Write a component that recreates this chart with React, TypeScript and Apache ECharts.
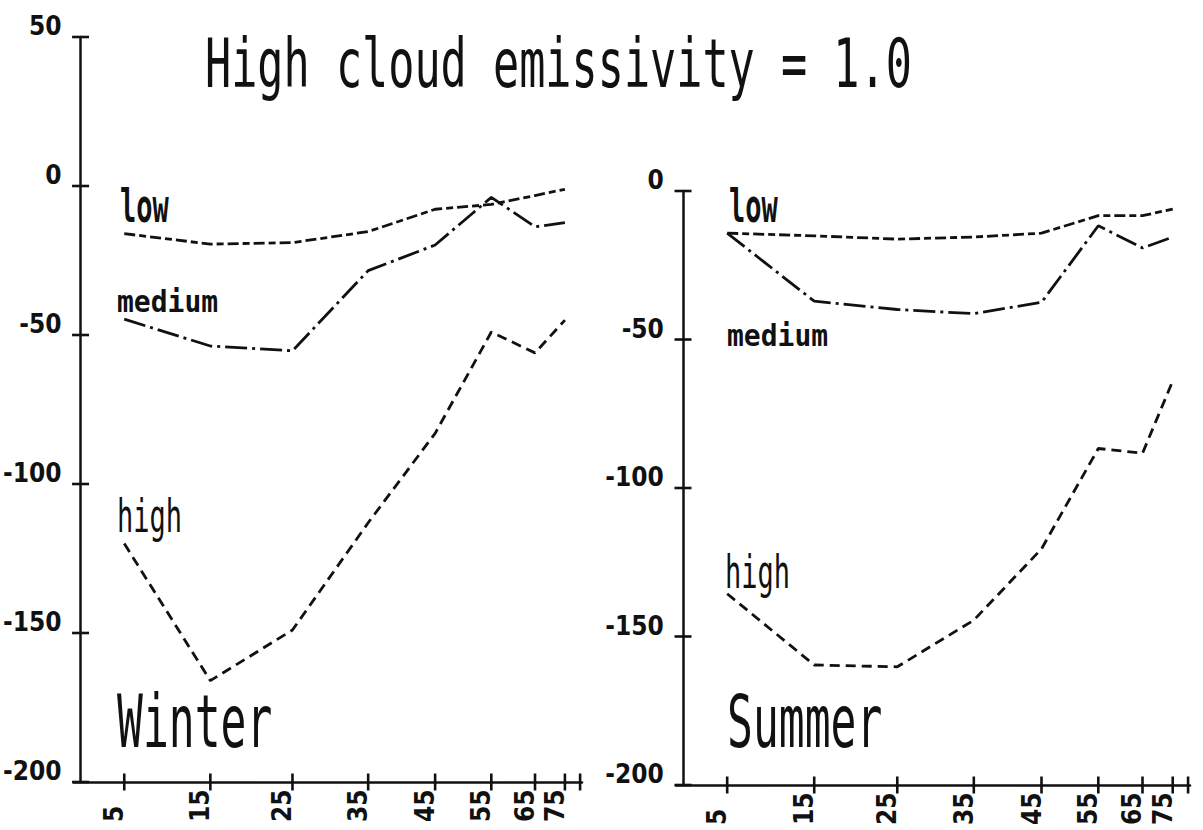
import React, { useEffect, useRef } from "react";
import * as echarts from "echarts";

// Latitude (degrees) of each plotted point; the x axis is drawn in sin(latitude)
const latitudes = [5, 15, 25, 35, 45, 55, 65, 75];
const tickLatitudes = [5, 15, 25, 35, 45, 55, 65, 75, 85];
const labelLatitudes = [5, 15, 25, 35, 45, 55, 65, 75];

// Winter panel
const winterLow = [-16, -19.5, -19, -15.3, -7.8, -6.2, -3.2, -1.1];
const winterMedium = [-44.7, -53.7, -55.3, -28.4, -19.8, -3.8, -13.7, -12.3];
const winterHigh = [-120, -166, -149, -113, -83, -49, -56, -45];

// Summer panel
const summerLow = [-14.2, -15.1, -16.2, -15.5, -14.2, -8.3, -8.3, -6.1];
const summerMedium = [-14.2, -37.1, -39.9, -41.3, -37.5, -11.7, -19.2, -15.5];
const summerHigh = [-135.6, -159.6, -160.2, -144.5, -120.5, -86.7, -88.3, -64];

const winterYTicks = [50, 0, -50, -100, -150, -200];
const summerYTicks = [0, -50, -100, -150, -200];
const yInterval = 50;

const titleText = "High cloud emissivity = 1.0";
const seasonNames = ["Winter", "Summer"];
const levelNames = ["low", "medium", "high"];

const sx = (lat: number) => Math.sin((lat * Math.PI) / 180);
const INK = "#111";
const NUM_FONT = "'DejaVu Sans Condensed', 'DejaVu Sans', sans-serif";
const MONO = "'DejaVu Sans Mono', 'Liberation Mono', monospace";

export default function App() {
  const ref = useRef<HTMLDivElement>(null);

  useEffect(() => {
    if (!ref.current) return;
    const chart = echarts.init(ref.current, undefined, { renderer: "svg" });

    const K = 507;
    const XMIN = -0.014;
    const grids = [
      { left: 75 + XMIN * K, top: 37, width: (1 - XMIN) * K, height: 745 },
      { left: 683 + XMIN * K, top: 191, width: (1 - XMIN) * K, height: 594 },
    ];
    const yTickSets = [winterYTicks, summerYTicks];

    const xAxes: any[] = [];
    const yAxes: any[] = [];
    grids.forEach((_, g) => {
      const yt = yTickSets[g];
      xAxes.push({
        type: "value",
        gridIndex: g,
        position: "bottom",
        min: XMIN,
        max: 1,
        axisLine: { show: true, onZero: false, lineStyle: { color: INK, width: 2.5 } },
        axisTick: { show: false },
        axisLabel: {
          show: true,
          customValues: labelLatitudes.map(sx),
          formatter: (v: number) =>
            String(Math.round((Math.asin(Math.min(1, v)) * 180) / Math.PI)),
          rotate: 90,
          align: "left",
          verticalAlign: "bottom",
          lineHeight: 20,
          margin: 40,
          color: INK,
          fontSize: 26,
          fontWeight: "bold",
          fontFamily: NUM_FONT,
        },
        splitLine: { show: false },
      });
      yAxes.push({
        type: "value",
        gridIndex: g,
        position: "left",
        min: Math.min(...yt),
        max: Math.max(...yt),
        interval: yInterval,
        axisLine: { show: true, onZero: true, lineStyle: { color: INK, width: 2.5 } },
        axisTick: { show: false },
        axisLabel: {
          show: true,
          margin: 12,
          verticalAlign: "bottom",
          lineHeight: 22,
          color: INK,
          fontSize: 26,
          fontWeight: "bold",
          fontFamily: NUM_FONT,
        },
        splitLine: { show: false },
      });
    });

    const styles: Record<string, any> = {
      low: [11, 4, 7, 4],
      medium: [22, 5, 3, 5],
      high: [10, 6],
    };

    const panels = [
      { low: winterLow, medium: winterMedium, high: winterHigh },
      { low: summerLow, medium: summerMedium, high: summerHigh },
    ];

    const series: any[] = [];
    panels.forEach((p: any, g) => {
      levelNames.forEach((lvl) => {
        series.push({
          type: "line",
          name: `${seasonNames[g]} ${lvl}`,
          xAxisIndex: g,
          yAxisIndex: g,
          data: latitudes.map((lat, i) => [sx(lat), p[lvl][i]]),
          symbol: "none",
          silent: true,
          lineStyle: { color: INK, width: 2.8, type: styles[lvl] },
        });
      });
      const yt = yTickSets[g];
      // cross-shaped tick marks centred on the axis lines
      series.push({
        type: "scatter",
        name: `${seasonNames[g]} x ticks`,
        xAxisIndex: g,
        yAxisIndex: g,
        silent: true,
        clip: false,
        z: 5,
        symbol: "rect",
        symbolSize: [2.6, 17],
        itemStyle: { color: INK, opacity: 1 },
        data: tickLatitudes.map((lat) => [sx(lat), Math.min(...yt)]),
      });
      series.push({
        type: "scatter",
        name: `${seasonNames[g]} y ticks`,
        xAxisIndex: g,
        yAxisIndex: g,
        silent: true,
        clip: false,
        z: 5,
        symbol: "rect",
        symbolSize: [17, 2.6],
        itemStyle: { color: INK, opacity: 1 },
        data: yt.map((v) => [0, v]),
      });
    });

    const txt = (
      text: string,
      x: number,
      y: number,
      fontSize: number,
      scaleY: number,
      bold = false
    ) => ({
      type: "text",
      x,
      y,
      scaleX: 1,
      scaleY,
      silent: true,
      style: {
        text,
        fill: INK,
        fontSize,
        fontFamily: MONO,
        fontWeight: bold ? "bold" : "normal",
        textAlign: "left",
        textVerticalAlign: "middle",
        verticalAlign: "middle",
      },
    });

    const graphic = [
      txt(titleText, 205, 63, 43.5, 1.55),
      txt(seasonNames[0], 117, 722, 43, 1.69),
      txt(seasonNames[1], 727, 722, 43, 1.69),
      txt(levelNames[0], 120, 206, 27, 1.7, true),
      txt(levelNames[1], 117, 302, 28, 1.08, true),
      txt(levelNames[2], 117, 516, 27, 1.7),
      txt(levelNames[0], 729, 206, 27, 1.7, true),
      txt(levelNames[1], 727, 336, 28, 1.08, true),
      txt(levelNames[2], 725, 572, 27, 1.7),
    ];

    chart.setOption({
      animation: false,
      backgroundColor: "#fff",
      grid: grids,
      xAxis: xAxes,
      yAxis: yAxes,
      series,
      graphic,
    });

    return () => chart.dispose();
  }, []);

  return (
    <div
      ref={ref}
      style={{ position: "absolute", left: 0, top: 0, width: 1203, height: 830, background: "#fff" }}
    />
  );
}
